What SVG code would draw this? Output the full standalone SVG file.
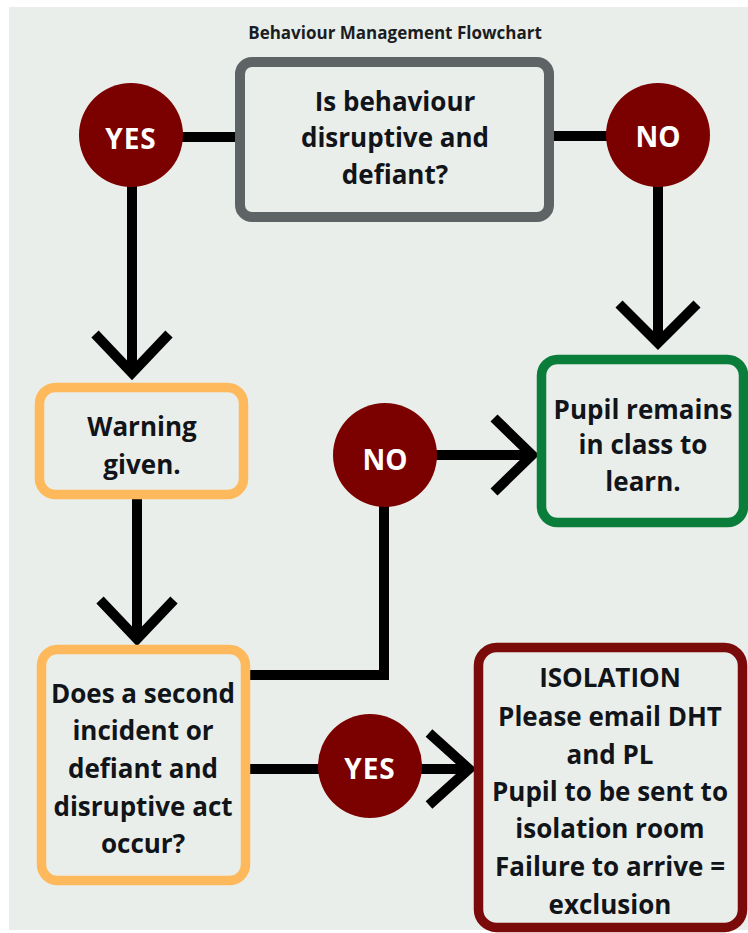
<svg xmlns="http://www.w3.org/2000/svg" width="748" height="933" viewBox="0 0 748 933">
<defs>
<style>
.bg{fill:#EAEEEA}
.box{fill:#EAEEEA;stroke-width:9.5}
.gray{stroke:#5E6366;stroke-width:10}
.orange{stroke:#FDB95B}
.green{stroke:#0B7D3A}
.red{stroke:#7B0B0B}
.circ{fill:#7B0000}
.conn{fill:none;stroke:#000;stroke-width:10;stroke-linejoin:miter;stroke-linecap:butt}
.t{font-family:"Open Sans","Noto Sans","Liberation Sans",sans-serif;font-weight:700;font-size:26px;fill:#111418;text-anchor:middle}
.ct{font-family:"Open Sans","Noto Sans","Liberation Sans",sans-serif;font-weight:700;font-size:28px;fill:#fff;text-anchor:middle}
.title{font-family:"Open Sans","Noto Sans","Liberation Sans",sans-serif;font-weight:700;font-size:17px;fill:#1a1d22;text-anchor:middle}
</style>
</defs>
<rect x="0" y="0" width="748" height="933" fill="#ffffff"/>
<rect class="bg" x="9" y="7" width="739" height="923"/>
<text class="title" x="395" y="39">Behaviour Management Flowchart</text>

<g id="connectors">
<path class="conn" d="M131,137 H240"/>
<path class="conn" d="M549,136 H658"/>
<path class="conn" d="M132,135 V372"/>
<path class="conn" d="M95,334 L132,373 L169,334"/>
<path class="conn" d="M658,135 V342"/>
<path class="conn" d="M619,304 L658,343 L697,304"/>
<path class="conn" d="M137,499 V638"/>
<path class="conn" d="M100,600 L137,639 L174,600"/>
<path class="conn" d="M250,675 H384 V455"/>
<path class="conn" d="M385,455 H531"/>
<path class="conn" d="M494,418 L532,455 L494,492"/>
<path class="conn" d="M250,769 H469"/>
<path class="conn" d="M429,733 L469,769 L429,805"/>
</g>

<g id="q1">
<rect class="box gray" x="240" y="62" width="309" height="155" rx="12"/>
<text class="t" x="395" y="111">Is behaviour</text>
<text class="t" x="395" y="147">disruptive and</text>
<text class="t" x="395" y="184">defiant?</text>
</g>

<g id="yes1">
<circle class="circ" cx="131" cy="135" r="52"/>
<text class="ct" x="131" y="149" letter-spacing="1">YES</text>
</g>

<g id="no1">
<circle class="circ" cx="658" cy="135" r="52"/>
<text class="ct" x="658" y="147">NO</text>
</g>

<g id="warning">
<rect class="box orange" x="39.5" y="387.5" width="204" height="107" rx="16"/>
<text class="t" x="142" y="436">Warning</text>
<text class="t" x="142" y="474">given.</text>
</g>

<g id="remain">
<rect class="box green" x="541.5" y="359.5" width="202" height="163" rx="16"/>
<text class="t" x="643" y="419">Pupil remains</text>
<text class="t" x="643" y="454">in class to</text>
<text class="t" x="643" y="491">learn.</text>
</g>

<g id="no2">
<circle class="circ" cx="385" cy="455" r="52"/>
<text class="ct" x="385" y="470">NO</text>
</g>

<g id="q2">
<rect class="box orange" x="41.5" y="649.5" width="204" height="231" rx="16"/>
<text class="t" x="143" y="703">Does a second</text>
<text class="t" x="143" y="740">incident or</text>
<text class="t" x="143" y="778">defiant and</text>
<text class="t" x="143" y="816">disruptive act</text>
<text class="t" x="143" y="853">occur?</text>
</g>

<g id="yes2">
<circle class="circ" cx="370" cy="766" r="52"/>
<text class="ct" x="370" y="779" letter-spacing="1">YES</text>
</g>

<g id="isolation">
<rect class="box red" x="478.5" y="647.5" width="264" height="280" rx="18"/>
<text class="t" x="610" y="687">ISOLATION</text>
<text class="t" x="610" y="726">Please email DHT</text>
<text class="t" x="610" y="764">and PL</text>
<text class="t" x="610" y="801">Pupil to be sent to</text>
<text class="t" x="610" y="838">isolation room</text>
<text class="t" x="610" y="876">Failure to arrive =</text>
<text class="t" x="610" y="914">exclusion</text>
</g>
</svg>
